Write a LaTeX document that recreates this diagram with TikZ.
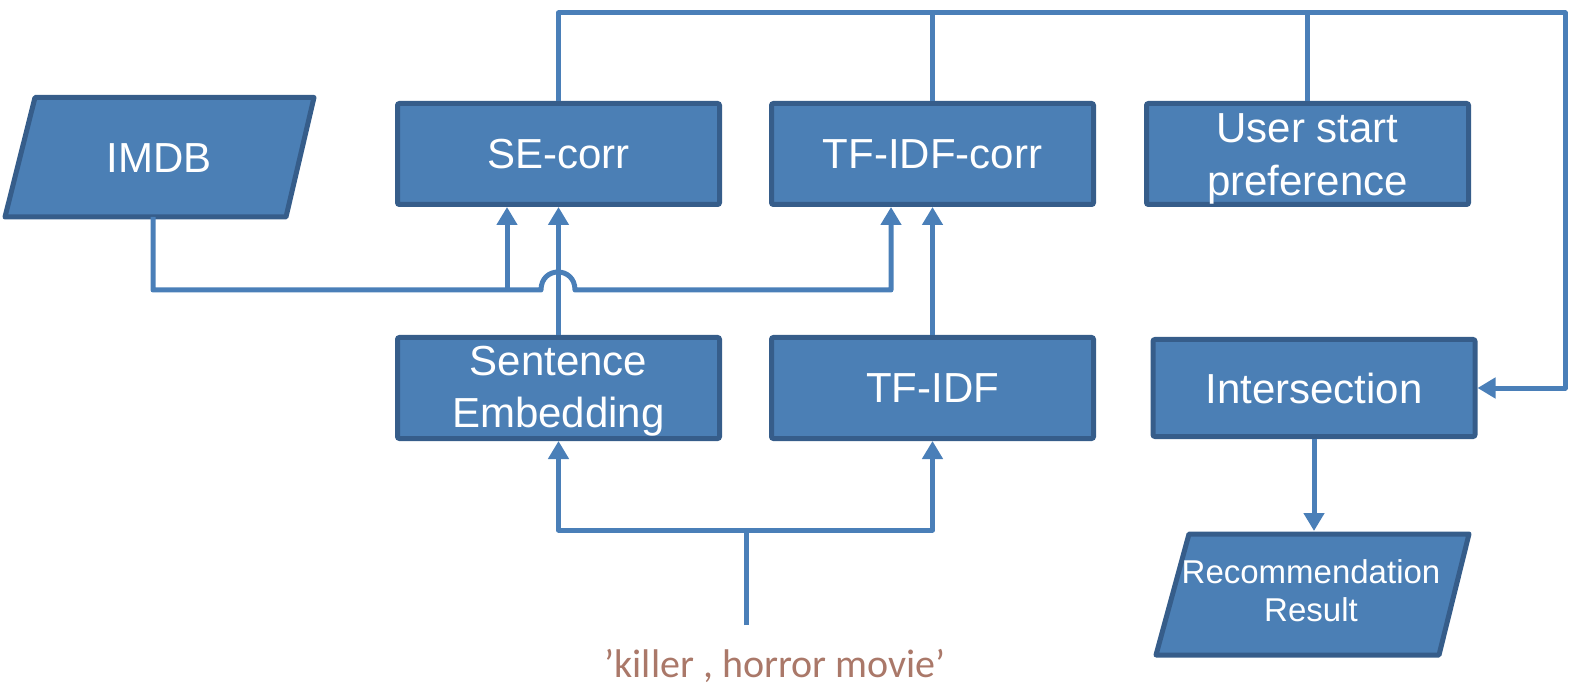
\documentclass[tikz,border=0pt]{standalone}
\usepackage{fontspec}
\setmainfont{Liberation Sans}
\newfontfamily\qfont{Carlito}
\usetikzlibrary{arrows.meta,calc}
\definecolor{boxfill}{RGB}{75,127,181}
\definecolor{boxedge}{RGB}{54,93,138}
\definecolor{linec}{RGB}{74,127,184}
\definecolor{qcol}{RGB}{170,120,105}
\tikzset{
  box/.style={rectangle, fill=boxfill, draw=boxedge, line width=5pt, rounded corners=2pt,
    minimum width=322pt, minimum height=101pt, text=white, align=center,
    font=\fontsize{42}{52}\selectfont, inner sep=0pt},
  para/.style={fill=boxfill, draw=boxedge, line width=5pt, line join=round},
  ptext/.style={text=white, align=center, inner sep=0pt},
  conn/.style={draw=linec, line width=5pt, line join=round},
  arr/.style={conn, -{Triangle[width=20pt,length=18pt]}},
}
\begin{document}
\begin{tikzpicture}[x=1pt,y=-1pt]
\useasboundingbox (0,0) rectangle (1576,692);
% parallelograms
\draw[para] (35,97.5) -- (314,97.5) -- (286,217) -- (5,217) -- cycle;
\node[ptext, font=\fontsize{42}{50}\selectfont] (imdb) at (159,158) {IMDB};
\draw[para] (1189,534) -- (1469,534) -- (1439,655) -- (1156,655) -- cycle;
\node[ptext, font=\fontsize{33}{38}\selectfont] (reco) at (1311,591) {Recommendation\\Result};
% boxes
\node[box] (sec) at (558.5,154) {SE-corr};
\node[box] (tfc) at (932.5,154) {TF-IDF-corr};
\node[box] (user) at (1307.5,154) {};
\node[ptext, font=\fontsize{42}{53}\selectfont] (usertext) at (1307.5,159) {User start\\preference};
\node[box] (sen) at (558.5,388) {};
\node[ptext, font=\fontsize{42}{52}\selectfont] (sentext) at (558.5,391) {Sentence\\Embedding};
\node[box] (tf) at (932.5,388) {TF-IDF};
\node[box, minimum height=97pt] (inter) at (1314,388) {Intersection};
% query
\node[text=qcol, font=\qfont\fontsize{40}{48}\selectfont, inner sep=0pt] (q) at (775,666) {’killer , horror movie’};
\coordinate (imdbb) at (153,217);
\coordinate (topR) at (1565,13);
\coordinate (qs) at (746,625);
\coordinate (qj) at (746,530);
\coordinate (hopL) at (541,290);
\coordinate (hopR) at (575,290);
\coordinate (bendA) at (507,290);
\coordinate (bendB) at (891,290);
% top loop
\draw[arr] (sec.north) |- (topR) |- (inter.east);
\draw[conn] (tfc.north) -- (tfc.north |- topR);
\draw[conn] (user.north) -- (user.north |- topR);
% IMDB feeds
\draw[arr] (imdbb) |- (hopL) .. controls (541,266) and (575,266) .. (hopR) -- (bendB) -- (bendB |- tfc.south);
\draw[arr] (bendA) -- (bendA |- sec.south);
% middle
\draw[arr] (sen.north) -- (sec.south);
\draw[arr] (tf.north) -- (tfc.south);
% query
\draw[conn] (qs) -- (qj);
\draw[arr] (qj) -| (sen.south);
\draw[arr] (qj) -| (tf.south);
% result
\draw[arr] (inter.south) -- (inter.south |- 0,531);
\end{tikzpicture}
\end{document}
